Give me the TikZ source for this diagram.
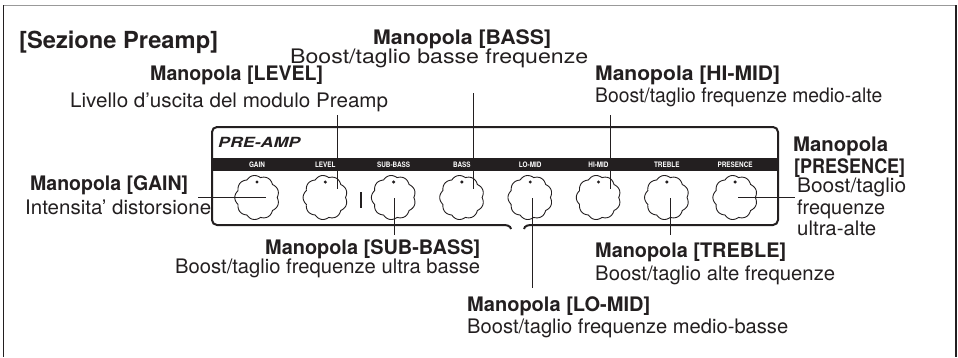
\documentclass[tikz,border=0pt]{standalone}
\usepackage{fontspec}
\usepackage{graphicx}
\setmainfont{TeX Gyre Heros}
\definecolor{ink}{HTML}{231F20}
\newcommand{\fitw}[2]{\resizebox{#1pt}{\height}{#2}}
\tikzset{
  txt/.style={anchor=base west, inner sep=0pt, text=ink, font=\fontsize{20}{22}\selectfont},
  btxt/.style={txt, font=\fontsize{20}{22}\selectfont\bfseries},
  leader/.style={draw=ink, line width=1pt},
  panel/.style={draw=ink, line width=2pt},
  knobline/.style={draw=ink, line width=0.9pt},
  bandlbl/.style={inner sep=0pt, text=white, font=\fontsize{7.5}{8}\selectfont\bfseries},
  knobnode/.style={circle, minimum size=42pt, inner sep=0pt}
}
\begin{document}
\begin{tikzpicture}[x=1pt,y=-1pt]
\useasboundingbox (0,0) rectangle (958,357);
% outer frame (open at the bottom)
\draw[gray!80, line width=1pt] (3,5) -- (956,5);
\draw[ink, line width=1.6pt] (3.5,5) -- (3.5,357);
\draw[ink, line width=2pt] (955.5,5) -- (955.5,357);

% panel
\fill[ink] (212,158) rectangle (778,170.5);
\draw[panel, rounded corners=5pt] (532,225) -- (778,225) -- (778,127) -- (212,127) -- (212,225) -- (503,225);
\draw[panel] (503,225) to[out=0,in=100] (511,229);
\draw[panel] (524,229) to[out=80,in=180] (532,225);
\node[anchor=base west, inner sep=0pt, text=ink, font=\fontsize{14}{15}\selectfont\bfseries\itshape] (pre) at (218,147.5) {\fitw{82}{PRE-AMP}};

% separator
\draw[ink, line width=1.6pt] (361,192) -- (361,208);

% knobs
\foreach \nm/\lb [count=\i from 0] in {gain/GAIN, level/LEVEL, subbass/SUB-BASS, bass/BASS, lomid/LO-MID, himid/HI-MID, treble/TREBLE, presence/PRESENCE} {
  \pgfmathsetmacro\cx{257+68.3*\i}
  \node[knobnode] (\nm) at (\cx,197) {};
  \draw[knobline] plot[domain=0:360, samples=181, variable=\t] ({\cx+(20.2+2*abs(sin(4.5*\t)))*cos(\t)},{197.5+(20.2+2*abs(sin(4.5*\t)))*sin(\t)}) -- cycle;
  \fill[ink] (\cx,182) circle (1.7);
  \node[bandlbl] (\nm lbl) at (\cx,164.5) {\scalebox{0.85}[1]{\lb}};
}

% texts
\node[btxt, font=\fontsize{23.5}{26}\selectfont\bfseries] (title) at (19,48) {\fitw{199}{[Sezione Preamp]}};
\node[btxt] (tbass) at (373,44.5) {\fitw{178}{Manopola [BASS]}};
\node[txt] (dbass) at (290,63) {\fitw{298}{Boost/taglio basse frequenze}};
\node[btxt] (tlevel) at (150,80) {\fitw{173}{Manopola [LEVEL]}};
\node[txt] (dlevel) at (70,107) {\fitw{318}{Livello d’uscita del modulo Preamp}};
\node[btxt] (thimid) at (595,80) {\fitw{185}{Manopola [HI-MID]}};
\node[txt] (dhimid) at (595,102) {\fitw{287}{Boost/taglio frequenze medio-alte}};
\node[btxt] (tpres1) at (793,151) {\fitw{95}{Manopola}};
\node[btxt] (tpres2) at (794,173) {\fitw{111}{[PRESENCE]}};
\node[txt] (dpres1) at (797,192) {\fitw{109}{Boost/taglio}};
\node[txt] (dpres2) at (797,214) {\fitw{88}{frequenze}};
\node[txt] (dpres3) at (797,235) {\fitw{79}{ultra-alte}};
\node[btxt] (tgain) at (30,190) {\fitw{158}{Manopola [GAIN]}};
\node[txt] (dgain) at (25,214) {\fitw{186}{Intensita’ distorsione}};
\node[btxt] (tsub) at (265,254) {\fitw{215}{Manopola [SUB-BASS]}};
\node[txt] (dsub) at (175,273) {\fitw{305}{Boost/taglio frequenze ultra basse}};
\node[btxt] (ttreble) at (595,257) {\fitw{191}{Manopola [TREBLE]}};
\node[txt] (dtreble) at (595,280) {\fitw{240}{Boost/taglio alte frequenze}};
\node[btxt] (tlomid) at (467,311) {\fitw{183}{Manopola [LO-MID]}};
\node[txt] (dlomid) at (467,333) {\fitw{321}{Boost/taglio frequenze medio-basse}};

% leader lines
\coordinate (levelA) at (337,115); \coordinate (levelB) at (337,189);
\coordinate (bassA) at (473,93);   \coordinate (bassB) at (473,189);
\coordinate (himidA) at (610,115); \coordinate (himidB) at (610,189);
\coordinate (gainA) at (198,197);  \coordinate (gainB) at (266,197);
\coordinate (subA) at (394,198);   \coordinate (subB) at (394,235);
\coordinate (lomidA) at (532,198); \coordinate (lomidB) at (532,288);
\coordinate (trebleA) at (670,198); \coordinate (trebleB) at (670,235);
\coordinate (presA) at (738,197);  \coordinate (presB) at (795,197);
\draw[leader] (levelA) -- (levelB);
\draw[leader] (bassA) -- (bassB);
\draw[leader] (himidA) -- (himidB);
\draw[leader] (gainA) -- (gainB);
\draw[leader] (subA) -- (subB);
\draw[leader] (lomidA) -- (lomidB);
\draw[leader] (trebleA) -- (trebleB);
\draw[leader] (presA) -- (presB);
\end{tikzpicture}
\end{document}
